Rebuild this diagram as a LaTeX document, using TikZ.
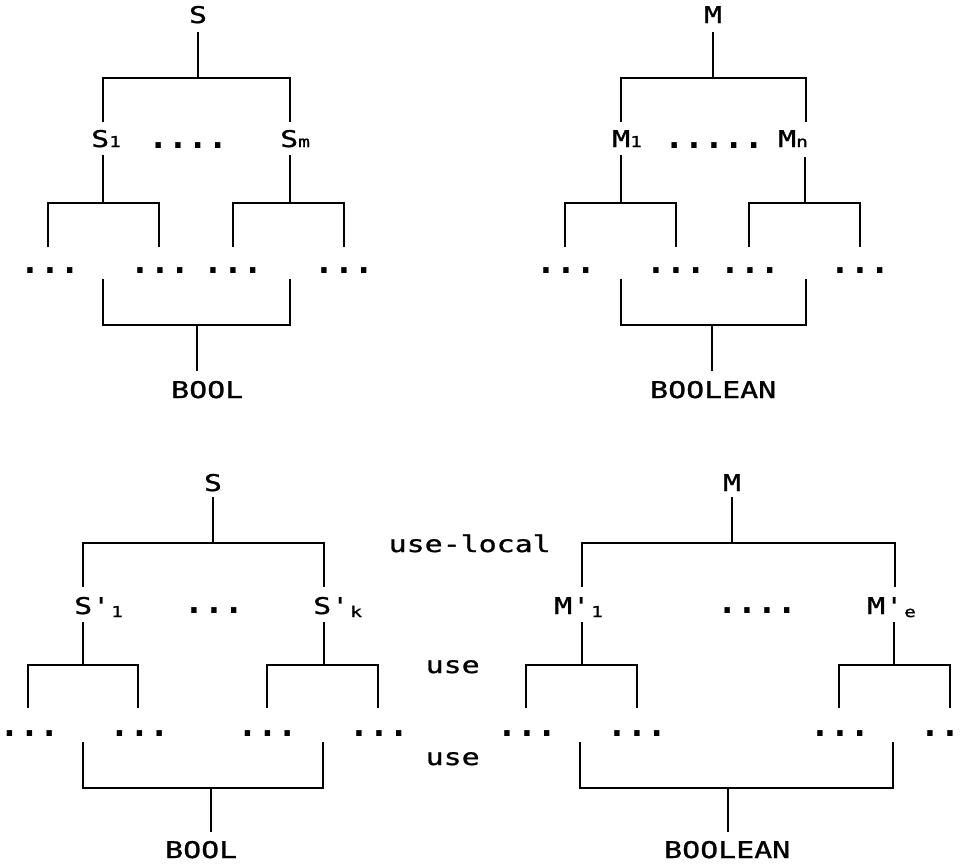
\documentclass[tikz,border=0pt]{standalone}
\usepackage{fontspec}
\newfontfamily\pf[FakeStretch=1.3,FakeBold=1.2]{DejaVu Sans Mono}
\newfontfamily\pfd{DejaVu Sans Mono}
\newcommand\sbx[1]{{\fontsize{15}{15}\selectfont #1}}
\newcommand\sbl[1]{\raisebox{-3pt}{\fontsize{15}{15}\selectfont #1}}
\begin{document}
\begin{tikzpicture}[x=1pt,y=-1pt,line width=2.4pt,
  lbl/.style={inner sep=0pt,anchor=base,font=\pf\fontsize{23}{23}\selectfont},
  lblw/.style={inner sep=0pt,anchor=base west,font=\pf\fontsize{23}{23}\selectfont},
  word/.style={inner sep=0pt,anchor=base west,font=\pf\fontsize{23}{23}\selectfont},
  dts/.style={inner sep=0pt,anchor=base,font=\pfd\bfseries\fontsize{33}{33}\selectfont}]
\useasboundingbox (0,0) rectangle (963,865);

% ---------- top left tree ----------
\node[lbl]  (aS)  at (198,23) {S};
\node[lblw] (aS1) at (90,147) {S\sbx{1}};
\node[lblw] (aSm) at (279,147) {S\sbx{m}};
\node[dts]  (aD)  at (188,148) {....};
\node[dts]  (aD1) at (50,273) {...};
\node[dts]  (aD2) at (160,273) {...};
\node[dts]  (aD3) at (233,273) {...};
\node[dts]  (aD4) at (344,273) {...};
\node[word] (aB)  at (170,398) {BOOL};
\coordinate (a0) at (198,32);  \coordinate (aJ) at (198,78);
\coordinate (a1t) at (103,122); \coordinate (a2t) at (290,122);
\coordinate (a1b) at (103,155); \coordinate (a1J) at (103,203);
\coordinate (a11) at (48,247);  \coordinate (a12) at (159,247);
\coordinate (a2b) at (290,155); \coordinate (a2J) at (290,203);
\coordinate (a21) at (233,247); \coordinate (a22) at (344,247);
\coordinate (a1u) at (103,279); \coordinate (a2u) at (290,279);
\coordinate (aK) at (197,325);  \coordinate (aE) at (197,371);
\draw (a0) -- (aJ); \draw (a1t) |- (aJ) -| (a2t);
\draw (a1b) -- (a1J); \draw (a11) |- (a1J) -| (a12);
\draw (a2b) -- (a2J); \draw (a21) |- (a2J) -| (a22);
\draw (a1u) |- (aK) -| (a2u); \draw (aK) -- (aE);

% ---------- top right tree ----------
\node[lbl]  (bM)  at (713,23) {M};
\node[lblw] (bM1) at (611,147) {M\sbx{1}};
\node[lblw] (bMn) at (777,147) {M\sbx{n}};
\node[dts]  (bD)  at (714,148) {.....};
\node[dts]  (bD1) at (566,273) {...};
\node[dts]  (bD2) at (676,273) {...};
\node[dts]  (bD3) at (750,273) {...};
\node[dts]  (bD4) at (860,273) {...};
\node[word] (bB)  at (649,398) {BOOLEAN};
\coordinate (b0) at (713,32);  \coordinate (bJ) at (713,78);
\coordinate (b1t) at (621,122); \coordinate (b2t) at (806,122);
\coordinate (b1b) at (621,155); \coordinate (b1J) at (621,203);
\coordinate (b11) at (565,247); \coordinate (b12) at (676,247);
\coordinate (b2b) at (805,157); \coordinate (b2J) at (805,203);
\coordinate (b21) at (749,247); \coordinate (b22) at (860,247);
\coordinate (b1u) at (621,279); \coordinate (b2u) at (806,279);
\coordinate (bK) at (712,325);  \coordinate (bE) at (712,371);
\draw (b0) -- (bJ); \draw (b1t) |- (bJ) -| (b2t);
\draw (b1b) -- (b1J); \draw (b11) |- (b1J) -| (b12);
\draw (b2b) -- (b2J); \draw (b21) |- (b2J) -| (b22);
\draw (b1u) |- (bK) -| (b2u); \draw (bK) -- (bE);

% ---------- bottom left tree ----------
\node[lbl]  (cS)  at (213,491) {S};
\node[lblw] (cS1) at (73,614) {S'\kern1pt\sbl{1}};
\node[lblw] (cSk) at (312,614) {S'\kern1pt\sbl{k}};
\node[dts]  (cD)  at (214,613) {...};
\node[dts]  (cD1) at (29.5,736) {...};
\node[dts]  (cD2) at (139.5,736) {...};
\node[dts]  (cD3) at (267.5,736) {...};
\node[dts]  (cD4) at (379,736) {...};
\node[word] (cB)  at (164,858) {BOOL};
\coordinate (c0) at (213,497);  \coordinate (cJ) at (213,543);
\coordinate (c1t) at (83,587);  \coordinate (c2t) at (324,587);
\coordinate (c1b) at (83,622);  \coordinate (c1J) at (83,665);
\coordinate (c11) at (28,708);  \coordinate (c12) at (138,708);
\coordinate (c2b) at (324,622); \coordinate (c2J) at (324,665);
\coordinate (c21) at (267,708); \coordinate (c22) at (378,708);
\coordinate (c1u) at (83,742);  \coordinate (c2u) at (323,742);
\coordinate (cK) at (211,788);  \coordinate (cE) at (211,832);
\draw (c0) -- (cJ); \draw (c1t) |- (cJ) -| (c2t);
\draw (c1b) -- (c1J); \draw (c11) |- (c1J) -| (c12);
\draw (c2b) -- (c2J); \draw (c21) |- (c2J) -| (c22);
\draw (c1u) |- (cK) -| (c2u); \draw (cK) -- (cE);

% ---------- bottom right tree ----------
\node[lbl]  (dM)  at (732,491) {M};
\node[lblw] (dM1) at (553,614) {M'\kern1pt\sbl{1}};
\node[lblw] (dMe) at (866,614) {M'\kern1pt\sbl{e}};
\node[dts]  (dD)  at (757,613) {....};
\node[dts]  (dD1) at (527,736) {...};
\node[dts]  (dD2) at (637,736) {...};
\node[dts]  (dD3) at (840,736) {...};
\node[dts]  (dD4) at (950,736) {...};
\node[word] (dB)  at (663,858) {BOOLEAN};
\coordinate (d0) at (732,497);  \coordinate (dJ) at (732,543);
\coordinate (d1t) at (582,587); \coordinate (d2t) at (895,587);
\coordinate (d1b) at (582,622); \coordinate (d1J) at (582,665);
\coordinate (d11) at (526,708); \coordinate (d12) at (637,708);
\coordinate (d2b) at (894,622); \coordinate (d2J) at (894,665);
\coordinate (d21) at (839,708); \coordinate (d22) at (950,708);
\coordinate (d1u) at (580,742); \coordinate (d2u) at (893,742);
\coordinate (dK) at (728,788);  \coordinate (dE) at (728,832);
\draw (d0) -- (dJ); \draw (d1t) |- (dJ) -| (d2t);
\draw (d1b) -- (d1J); \draw (d11) |- (d1J) -| (d12);
\draw (d2b) -- (d2J); \draw (d21) |- (d2J) -| (d22);
\draw (d1u) |- (dK) -| (d2u); \draw (dK) -- (dE);

% ---------- middle labels ----------
\node[word] (ul) at (387.5,552) {use-local};
\node[word] (u1) at (424.5,673) {use};
\node[word] (u2) at (424.5,765) {use};
\end{tikzpicture}
\end{document}
